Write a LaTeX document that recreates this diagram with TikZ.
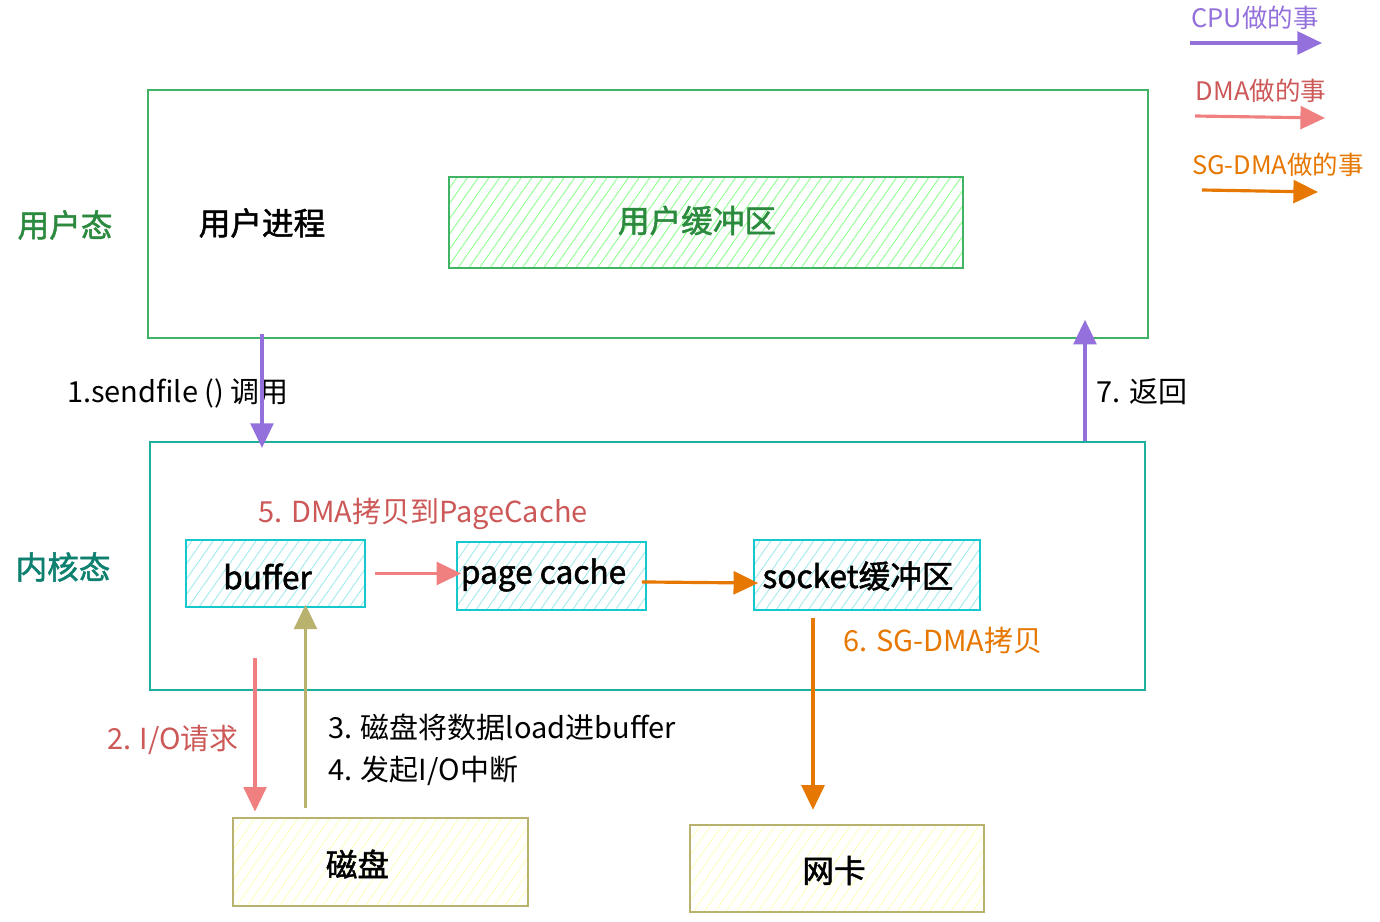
\documentclass[tikz,border=0pt]{standalone}
\usepackage{fontspec}
\setmainfont{Noto Sans CJK SC}[AutoFakeBold=1.6]
\usepackage{tikz}
\usetikzlibrary{calc,positioning,arrows.meta,patterns.meta}
\definecolor{cpupurple}{RGB}{147,112,219}
\definecolor{dmapink}{RGB}{240,128,128}
\definecolor{dmatext}{RGB}{204,88,88}
\definecolor{sgorange}{RGB}{230,119,0}
\definecolor{usergreen}{RGB}{64,180,100}
\definecolor{darkgreen}{RGB}{43,138,62}
\definecolor{kernteal}{RGB}{32,175,155}
\definecolor{darkteal}{RGB}{14,128,112}
\definecolor{bufcyan}{RGB}{20,200,205}
\definecolor{olive}{RGB}{185,178,110}

\begin{document}
\begin{tikzpicture}[x=0.02cm,y=-0.02cm]

\tikzset{lbl/.style={font=\fontsize{16.5}{20}\selectfont},
boxlbl/.style={font=\fontsize{18}{21}\selectfont\bfseries},
legend/.style={font=\fontsize{14.5}{17}\selectfont},
bigbox/.style={draw,line width=1.3pt,inner sep=0pt},
hatchbox/.style={draw,line width=1.3pt,inner sep=0pt,pattern={Lines[angle=55,distance=5pt,line width=0.5pt]}},
arr/.style={line width=1.8pt,-{Triangle[length=14pt,width=13pt]}},
cpuarrow/.style={arr,color=cpupurple},
dmaarrow/.style={arr,color=dmapink},
sgarrow/.style={arr,color=sgorange},
loadarrow/.style={arr,color=olive}}

\useasboundingbox (0,0) rectangle (1380,922);

% legend
\node[legend,text=cpupurple] (cpulbl) at (1255,18) {CPU做的事};
\node[legend,text=dmatext] (dmalbl) at (1261,91) {DMA做的事};
\node[legend,text=sgorange] (sglbl) at (1278,165) {SG-DMA做的事};
\coordinate (cpuA) at (1190,43); \coordinate (cpuB) at (1322,43);
\coordinate (dmaA) at (1195,116); \coordinate (dmaB) at (1325,118);
\coordinate (sgA) at (1202,190); \coordinate (sgB) at (1318,192);
\draw[cpuarrow] (cpuA) -- (cpuB);
\draw[dmaarrow] (dmaA) -- (dmaB);
\draw[sgarrow] (sgA) -- (sgB);

% user space
\node[bigbox,draw=usergreen,minimum width=20cm,minimum height=4.96cm] (userspace) at (648,214) {};
\node[boxlbl,text=darkgreen] (userlbl) at (65,225) {用户态};
\node[boxlbl] (proc) at (262,223) {用户进程};
\node[hatchbox,draw=usergreen,pattern color=green!45!white,minimum width=10.28cm,minimum height=1.82cm] (userbuf) at (706,222.5) {};
\node[boxlbl,text=darkgreen] (userbuflbl) at ($(userbuf)+(-9,-2)$) {用户缓冲区};

% kernel space
\node[bigbox,draw=kernteal,minimum width=19.9cm,minimum height=4.96cm] (kernel) at (647.5,566) {};
\node[boxlbl,text=darkteal] (kernlbl) at (63,567) {内核态};
\node[hatchbox,draw=bufcyan,pattern color=bufcyan!40!white,minimum width=3.58cm,minimum height=1.34cm] (buf) at (275.5,573.5) {};
\node[hatchbox,draw=bufcyan,pattern color=bufcyan!40!white,minimum width=3.78cm,minimum height=1.36cm] (pagecache) at (551.5,576) {};
\node[hatchbox,draw=bufcyan,pattern color=bufcyan!40!white,minimum width=4.52cm,minimum height=1.4cm] (socket) at (867,575) {};
\node[boxlbl] (buflbl) at ($(buf)+(-8,3)$) {buffer};
\node[boxlbl] (pagelbl) at ($(pagecache)+(-8,-1)$) {page cache};
\node[boxlbl] (socketlbl) at ($(socket)+(-9,1)$) {socket缓冲区};
\node[lbl,text=dmatext] (dmacopy) at (423,514) {5. DMA拷贝到PageCache};
\node[lbl,text=sgorange] (sgcopy) at (943,640) {6. SG-DMA拷贝};

% devices
\node[hatchbox,draw=olive,pattern color=yellow!25!white,minimum width=5.9cm,minimum height=1.76cm] (disk) at (380.5,862) {};
\node[hatchbox,draw=olive,pattern color=yellow!25!white,minimum width=5.88cm,minimum height=1.74cm] (nic) at (837,868.5) {};
\node[boxlbl] (disklbl) at ($(disk)+(-23,2)$) {磁盘};
\node[boxlbl] (niclbl) at ($(nic)+(-3,2)$) {网卡};

% labels of the steps
\node[lbl] (sendlbl) at (178,393) {1.sendfile () 调用};
\node[lbl] (retlbl) at (1142,392) {7. 返回};
\node[lbl,text=dmatext] (ioreqlbl) at (173,740) {2. I/O请求};
\node[lbl,anchor=west] (loadlbl) at (322,727) {3. 磁盘将数据load进buffer};
\node[lbl,anchor=west] (intlbl) at (322,771) {4. 发起I/O中断};

% edges
\coordinate (retx) at (1085,0);
\coordinate (ioreq) at (255,658);
\coordinate (loadx) at ($(buf.south)+(30,0)$);
\coordinate (sgx) at ($(socket.south)+(-54,0)$);
\draw[cpuarrow,shorten <=-3pt,shorten >=-4pt] (proc |- userspace.south) -- (proc |- kernel.north);
\draw[cpuarrow,shorten >=-11pt] (retx |- kernel.north) -- (retx |- userspace.south);
\draw[dmaarrow,shorten <=5pt,shorten >=-3pt] (buf.east) -- (buf.east -| pagecache.west);
\draw[sgarrow,shorten <=-3pt,shorten >=-3pt] ($(pagecache.east)+(0,6)$) -- ($(socket.west)+(0,8)$);
\draw[sgarrow,shorten <=4pt,shorten >=8pt] (sgx) -- (sgx |- nic.north);
\draw[dmaarrow,shorten >=3pt] (ioreq) -- (ioreq |- disk.north);
\draw[loadarrow,shorten <=5pt,shorten >=-2pt] (loadx |- disk.north) -- (loadx);

\end{tikzpicture}
\end{document}
